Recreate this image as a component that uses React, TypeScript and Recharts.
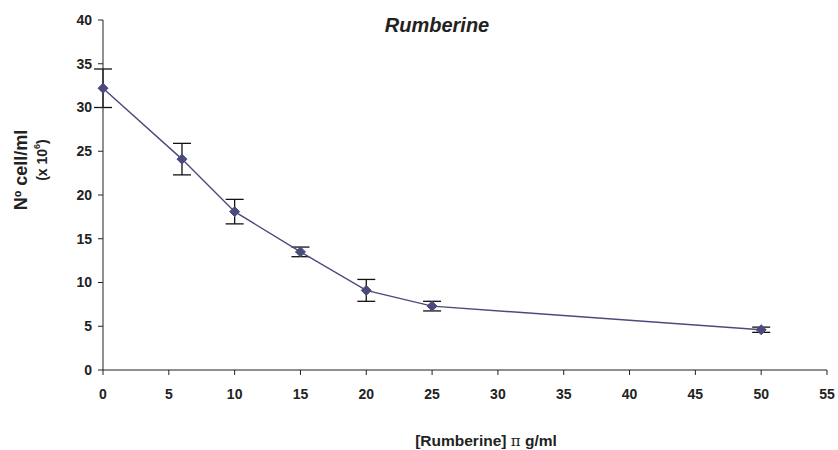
import React from "react";
import {
  LineChart,
  Line,
  XAxis,
  YAxis,
  ErrorBar,
} from "recharts";

const concentrations = [0, 6, 10, 15, 20, 25, 50];
const cellCounts = [32.2, 24.1, 18.1, 13.5, 9.1, 7.3, 4.6];
const errors = [2.2, 1.8, 1.4, 0.55, 1.25, 0.55, 0.3];
const xTicks = [0, 5, 10, 15, 20, 25, 30, 35, 40, 45, 50, 55];
const yTicks = [0, 5, 10, 15, 20, 25, 30, 35, 40];

const chartData = concentrations.map((c, i) => ({
  conc: c,
  cells: cellCounts[i],
  err: errors[i],
}));

const LINE_COLOR = "#4b4a7d";
const AXIS_COLOR = "#222";
const FONT = "Arial, 'Liberation Sans', sans-serif";

const Diamond = (props: any) => {
  const { cx, cy } = props;
  if (cx == null || cy == null) return null;
  const r = 5;
  return (
    <polygon
      points={`${cx},${cy - r} ${cx + r},${cy} ${cx},${cy + r} ${cx - r},${cy}`}
      fill={LINE_COLOR}
      stroke={LINE_COLOR}
    />
  );
};

// two-line rotated axis title, placed by hand
const YLabel = () => {
  return (
    <g fontFamily={FONT} fontWeight="bold" fill="#222">
      <text
        x={21}
        y={170}
        transform="rotate(-90, 21, 170)"
        textAnchor="middle"
        dominantBaseline="central"
        fontSize={18}
      >
        Nº cell/ml
      </text>
      <text
        x={42}
        y={160}
        transform="rotate(-90, 42, 160)"
        textAnchor="middle"
        dominantBaseline="central"
        fontSize={14}
      >
        (x 10<tspan dy={-5} fontSize={9}>6</tspan>
        <tspan dy={5}>)</tspan>
      </text>
    </g>
  );
};

const XLabel = () => {
  return (
    <text
      x={486}
      y={446}
      textAnchor="middle"
      fontFamily={FONT}
      fontWeight="bold"
      fontSize={15.5}
      fill="#222"
    >
      [Rumberine]{" "}
      <tspan fontFamily="'DejaVu Serif', serif" fontWeight="normal" fontSize={15}>
        π
      </tspan>{" "}
      g/ml
    </text>
  );
};

const tickStyle = {
  fontFamily: FONT,
  fontWeight: "bold" as const,
  fontSize: 14,
  fill: "#222",
};

export default function App() {
  return (
    <div style={{ position: "absolute", left: 0, top: 0, width: 838, height: 450, background: "#fff" }}>
      <div
        style={{
          position: "absolute",
          left: 0,
          width: 874,
          top: 14,
          textAlign: "center",
          fontFamily: FONT,
          fontWeight: "bold",
          fontStyle: "italic",
          fontSize: 20,
          color: "#222",
        }}
      >
        Rumberine
      </div>
      <LineChart
        width={838}
        height={450}
        data={chartData}
        margin={{ top: 20, right: 11, left: 43, bottom: 5 }}
      >
        <XAxis
          dataKey="conc"
          type="number"
          domain={[0, 55]}
          ticks={xTicks}
          interval={0}
          height={75}
          stroke={AXIS_COLOR}
          tickSize={5}
          tickMargin={14}
          tick={tickStyle}
          label={<XLabel />}
        />
        <YAxis
          type="number"
          domain={[0, 40]}
          ticks={yTicks}
          interval={0}
          width={60}
          stroke={AXIS_COLOR}
          tickSize={5}
          tickMargin={6}
          tick={tickStyle}
          label={<YLabel />}
        />
        <Line
          dataKey="cells"
          stroke={LINE_COLOR}
          strokeWidth={1.4}
          dot={<Diamond />}
          activeDot={false}
          isAnimationActive={false}
        >
          <ErrorBar
            dataKey="err"
            direction="y"
            width={9}
            stroke="#111"
            strokeWidth={1.3}
          />
        </Line>
      </LineChart>
    </div>
  );
}
